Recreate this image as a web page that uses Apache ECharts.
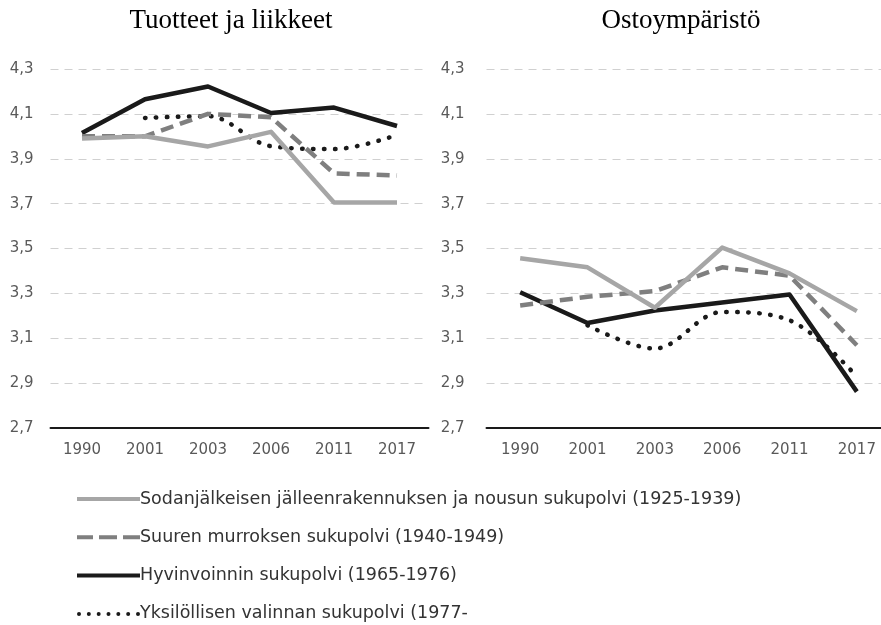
<!DOCTYPE html>
<html><head><meta charset="utf-8">
<script src="https://cdn.jsdelivr.net/npm/echarts@6/dist/echarts.min.js"></script>
<style>html,body{margin:0;padding:0;background:#fff}#c{width:881px;height:625px}</style>
</head><body><div id="c"></div>
<script>
const categories = ['1990','2001','2003','2006','2011','2017'];
const titles = ['Tuotteet ja liikkeet','Ostoympäristö'];
const seriesNames = [
  'Sodanjälkeisen jälleenrakennuksen ja nousun sukupolvi (1925-1939)',
  'Suuren murroksen sukupolvi (1940-1949)',
  'Hyvinvoinnin sukupolvi (1965-1976)',
  'Yksilöllisen valinnan sukupolvi (1977-'
];
// Panel 1: Tuotteet ja liikkeet
const left_sodanjalk = [3.99, 4.00, 3.955, 4.02, 3.705, 3.705];
const left_murros    = [4.00, 4.00, 4.10, 4.085, 3.835, 3.825];
const left_hyvinv    = [4.015, 4.165, 4.222, 4.104, 4.128, 4.046];
const left_yksil     = [null, 4.082, 4.09, 3.956, 3.943, 4.006];
// Panel 2: Ostoympäristö
const right_sodanjalk = [3.457, 3.416, 3.236, 3.504, 3.389, 3.221];
const right_murros    = [3.246, 3.285, 3.31, 3.416, 3.379, 3.069];
const right_hyvinv    = [3.305, 3.168, 3.224, 3.259, 3.295, 2.862];
const right_yksil     = [null, 3.158, 3.054, 3.217, 3.18, 2.929];
const yMin = 2.7, yMax = 4.3, yStep = 0.2;

const styles = [
  {color:'#a6a6a6', width:4.5, type:'solid', smooth:false},
  {color:'#7f7f7f', width:4.5, type:[13,7], smooth:false},
  {color:'#1a1a1a', width:4.5, type:'solid', smooth:false},
  {color:'#1a1a1a', width:4.5, type:[0.5,10.5], smooth:true, cap:'round'}
];
const dot = x => 'M' + x + ',2a2,2 0 1,0 4,0a2,2 0 1,0 -4,0Z';
const legendIcons = [
  'path://M0,0H63V4H0Z',
  'path://M0,0H16V4H0Z M22,0H40V4H22Z M46,0H63V4H46Z',
  'path://M0,0H63V4H0Z',
  'path://' + [0, 9.83, 19.67, 29.5, 39.33, 49.17, 59].map(dot).join(' ')
];
const leftData = [left_sodanjalk, left_murros, left_hyvinv, left_yksil];
const rightData = [right_sodanjalk, right_murros, right_hyvinv, right_yksil];

const axisFont = 'DejaVu Sans, sans-serif';
const chart = echarts.init(document.getElementById('c'), null, {renderer:'canvas'});
function yAxis(gi, margin){
  return {
    type:'value', gridIndex:gi, min:yMin, max:yMax, interval:yStep,
    axisLine:{show:false}, axisTick:{show:false},
    axisLabel:{color:'#595959', fontSize:15, fontFamily:axisFont, margin:margin,
      formatter:v=>v.toFixed(1).replace('.',',')},
    splitLine:{show:true, lineStyle:{color:'#d0d0d0', width:1, type:[8,6]}}
  };
}
function xAxis(gi){
  return {
    type:'category', gridIndex:gi, data:categories, boundaryGap:true,
    axisLine:{show:true, lineStyle:{color:'#1a1a1a', width:2}},
    axisTick:{show:false},
    axisLabel:{color:'#595959', fontSize:15, fontFamily:axisFont, margin:15}
  };
}
const series = [];
[leftData, rightData].forEach((arrs, gi)=>{
  arrs.forEach((d,i)=>{
    const s = styles[i];
    series.push({
      name: seriesNames[i], type:'line', xAxisIndex:gi, yAxisIndex:gi,
      data:d, symbol:'none', smooth: s.smooth ? 0.35 : false, connectNulls:false,
      lineStyle:{color:s.color, width:s.width, type:s.type, cap:s.cap||'butt', join:'round'},
      itemStyle:{color:s.color}, z: 10 - i
    });
  });
});
chart.setOption({
  animation:false,
  backgroundColor:'#fff',
  title:[
    {text:titles[0], left:226, top:2, textAlign:'center',
      textStyle:{fontFamily:'Liberation Serif, serif', fontSize:27, fontWeight:'normal', color:'#000'}},
    {text:titles[1], left:676, top:2, textAlign:'center',
      textStyle:{fontFamily:'Liberation Serif, serif', fontSize:27, fontWeight:'normal', color:'#000'}}
  ],
  grid:[
    {left:50.5, width:378, top:69, bottom:197, containLabel:false, outerBoundsMode:'none'},
    {left:486.5, width:404, top:69, bottom:197, containLabel:false, outerBoundsMode:'none'}
  ],
  xAxis:[xAxis(0), xAxis(1)],
  yAxis:[yAxis(0,17), yAxis(1,22)],
  legend:{
    orient:'vertical', left:77, top:490, height:200, padding:0,
    itemWidth:63, itemHeight:4, itemGap:20.3,
    data:seriesNames.map((n,i)=>({name:n, icon:legendIcons[i], itemStyle:{color:styles[i].color, borderWidth:0}})),
    itemStyle:{borderWidth:0},
    textStyle:{color:'#333', fontSize:17.5, fontFamily:axisFont, padding:[0,0,0,-5]}
  },
  series:series
});
</script></body></html>
